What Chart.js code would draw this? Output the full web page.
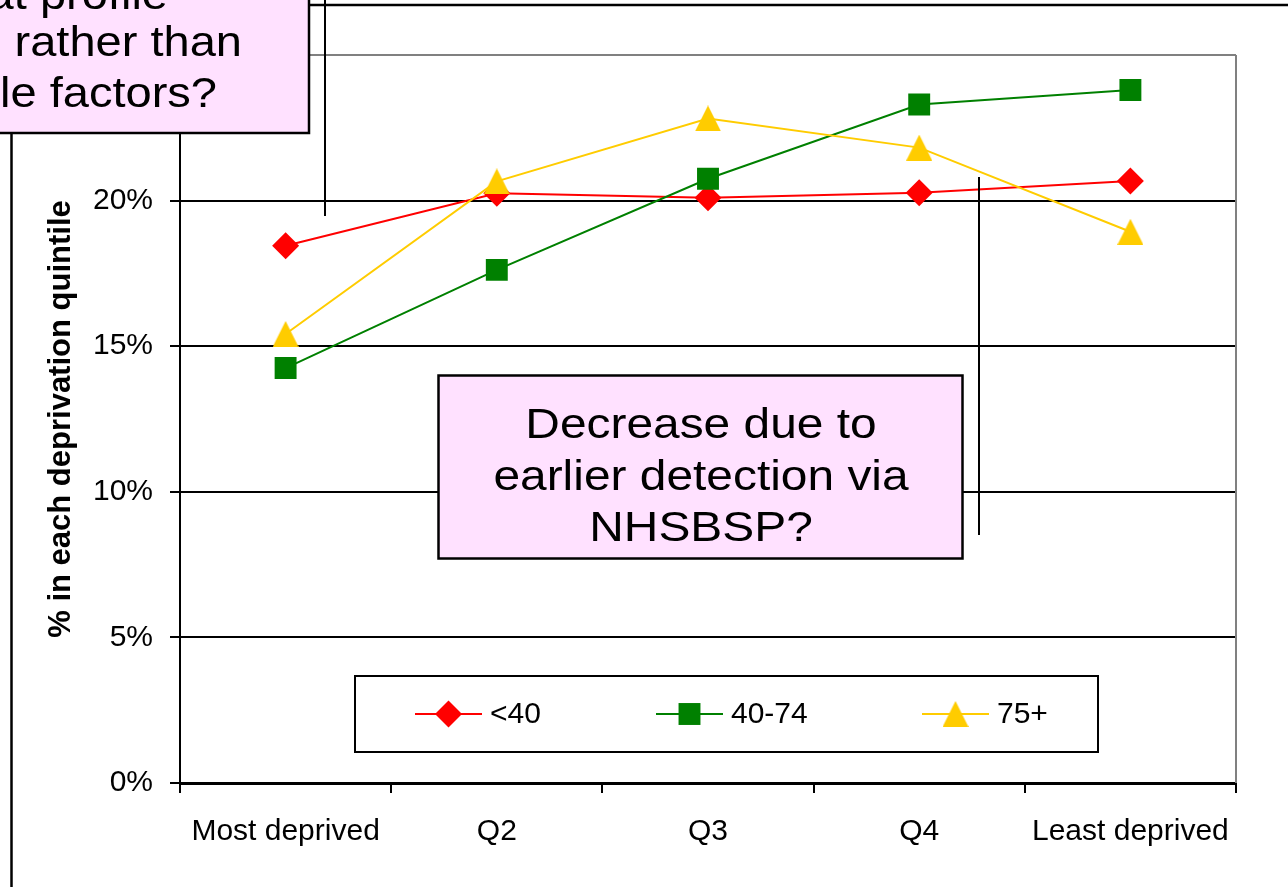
<!DOCTYPE html>
<html>
<head>
<meta charset="utf-8">
<script src="https://cdn.jsdelivr.net/npm/chart.js@4.4.1/dist/chart.umd.min.js"></script>
<style>
  html, body { margin: 0; padding: 0; background: #fff; overflow: hidden; }
  canvas { display: block; }
</style>
</head>
<body>
<canvas id="chart" width="1288" height="887"></canvas>
<script>
// ── Data ─────────────────────────────────────────────────────────────────────
const categories = ['Most deprived', 'Q2', 'Q3', 'Q4', 'Least deprived'];
const under40    = [18.45, 20.25, 20.1, 20.27, 20.67];
const age40to74  = [14.25, 17.62, 20.75, 23.3, 23.8];
const age75plus  = [15.42, 20.66, 22.82, 21.82, 18.93];
const yTicks     = [0, 5, 10, 15, 20, 25];

const FONT = '"Liberation Sans", Arial, sans-serif';
const PINK = '#FFE1FF';

// Excel-style triangle marker (isosceles in a square box)
function triangleMarker(size, color) {
  const c = document.createElement('canvas');
  c.width = size; c.height = size;
  const g = c.getContext('2d');
  g.fillStyle = color;
  g.beginPath();
  g.moveTo(size / 2, 0);
  g.lineTo(size, size);
  g.lineTo(0, size);
  g.closePath();
  g.fill();
  return c;
}

const series = [
  { label: '<40',   data: under40,   color: '#FF0000', pointStyle: 'rectRot', radius: 13.5, order: 3 },
  { label: '40-74', data: age40to74, color: '#008000', pointStyle: 'rect',    radius: 15.5, order: 2 },
  { label: '75+',   data: age75plus, color: '#FFCC00', pointStyle: triangleMarker(26, '#FFCC00'), radius: 13, order: 1 },
];

// ── Plot-area right border (grey, like the Excel frame) ──────────────────────
const plotFrame = {
  id: 'plotFrame',
  beforeDatasetsDraw(chart) {
    const { ctx, chartArea: a } = chart;
    ctx.save();
    ctx.strokeStyle = '#808080';
    ctx.lineWidth = 2;
    ctx.beginPath();
    ctx.moveTo(a.right, a.top);
    ctx.lineTo(a.right, a.bottom);
    ctx.stroke();
    ctx.restore();
  }
};

function drawMarker(ctx, s, x, y) {
  const opts = { pointStyle: s.pointStyle, radius: s.radius, rotation: 0, borderWidth: 0 };
  ctx.fillStyle = s.color;
  if (Chart.helpers && Chart.helpers.drawPoint) {
    Chart.helpers.drawPoint(ctx, opts, x, y);
  }
}

// ── Legend box inside the plot ───────────────────────────────────────────────
const boxedLegend = {
  id: 'boxedLegend',
  afterDraw(chart, args, o) {
    const { ctx } = chart;
    ctx.save();
    ctx.fillStyle = '#fff';
    ctx.fillRect(o.x, o.y, o.w, o.h);
    ctx.strokeStyle = '#000';
    ctx.lineWidth = 2;
    ctx.strokeRect(o.x, o.y, o.w, o.h);
    const cy = o.y + o.h / 2;
    series.forEach((s, i) => {
      const x0 = o.itemX[i];
      ctx.strokeStyle = s.color;
      ctx.lineWidth = 2;
      ctx.beginPath();
      ctx.moveTo(x0, cy);
      ctx.lineTo(x0 + o.lineLen, cy);
      ctx.stroke();
      drawMarker(ctx, s, x0 + o.lineLen / 2, cy);
      ctx.fillStyle = '#000';
      ctx.font = `30px ${FONT}`;
      ctx.textAlign = 'left';
      ctx.textBaseline = 'middle';
      ctx.fillText(s.label, x0 + o.lineLen + 8, cy + 1);
    });
    ctx.restore();
  }
};

// ── Slide callouts and connector lines ───────────────────────────────────────
function stretched(ctx, text, x, y, align, sx) {
  ctx.save();
  ctx.translate(x, y);
  ctx.scale(sx, 1);
  ctx.textAlign = align;
  ctx.fillText(text, 0, 0);
  ctx.restore();
}

const callouts = {
  id: 'callouts',
  afterDraw(chart) {
    const { ctx } = chart;
    ctx.save();
    ctx.strokeStyle = '#000';

    // connector / frame lines
    ctx.lineWidth = 2.5;
    ctx.beginPath(); ctx.moveTo(309, 5); ctx.lineTo(1288, 5); ctx.stroke();
    ctx.beginPath(); ctx.moveTo(11.5, 133); ctx.lineTo(11.5, 887); ctx.stroke();
    ctx.lineWidth = 2;
    ctx.beginPath(); ctx.moveTo(325, 0); ctx.lineTo(325, 216); ctx.stroke();
    ctx.beginPath(); ctx.moveTo(979, 177); ctx.lineTo(979, 535); ctx.stroke();

    ctx.font = `42px ${FONT}`;
    ctx.textBaseline = 'alphabetic';

    // top-left callout (partly off the slide)
    ctx.fillStyle = PINK;
    ctx.fillRect(-20, -20, 329, 153);
    ctx.lineWidth = 2.5;
    ctx.strokeRect(-20, -20, 329, 153);
    ctx.fillStyle = '#000';
    stretched(ctx, 'Different threat profile', 168, 9, 'right', 1.12);
    stretched(ctx, 'hormonal rather than', 242, 56, 'right', 1.12);
    stretched(ctx, 'lifestyle factors?', 217, 107, 'right', 1.12);

    // central callout
    ctx.fillStyle = PINK;
    ctx.fillRect(438.5, 375.5, 524, 183);
    ctx.strokeRect(438.5, 375.5, 524, 183);
    ctx.fillStyle = '#000';
    stretched(ctx, 'Decrease due to', 701, 438, 'center', 1.14);
    stretched(ctx, 'earlier detection via', 701, 490, 'center', 1.14);
    stretched(ctx, 'NHSBSP?', 701, 541, 'center', 1.14);
    ctx.restore();
  }
};

// ── Chart ───────────────────────────────────────────────────────────────────
new Chart(document.getElementById('chart'), {
  type: 'line',
  data: {
    labels: categories,
    datasets: series.map(s => ({
      label: s.label,
      data: s.data,
      order: s.order,
      borderColor: s.color,
      backgroundColor: s.color,
      borderWidth: 2,
      tension: 0,
      fill: false,
      pointStyle: s.pointStyle,
      pointRadius: s.radius,
      pointHoverRadius: s.radius,
      pointBorderWidth: 0,
      pointBackgroundColor: s.color,
    })),
  },
  options: {
    responsive: false,
    animation: false,
    layout: { padding: { left: 0, top: 55, right: 52, bottom: 0 } },
    plugins: {
      legend: { display: false },
      tooltip: { enabled: false },
      boxedLegend: { x: 355, y: 676, w: 743, h: 76, itemX: [415, 656, 922], lineLen: 67 },
    },
    scales: {
      x: {
        type: 'category',
        offset: true,
        grid: { offset: true, drawOnChartArea: false, color: '#000', lineWidth: 2, tickLength: 10 },
        border: { color: '#000', width: 3 },
        ticks: { color: '#000', font: { family: FONT, size: 30 }, padding: 21, maxRotation: 0, autoSkip: false },
        afterFit: s => { s.height = 104; },
      },
      y: {
        min: 0, max: 25,
        afterBuildTicks: s => { s.ticks = yTicks.map(v => ({ value: v })); },
        grid: {
          color: c => (c.tick && c.tick.value === 25 ? '#808080' : '#000'),
          lineWidth: 2, tickLength: 10,
        },
        border: { color: '#000', width: 2 },
        ticks: { color: '#000', font: { family: FONT, size: 30 }, padding: 17, callback: v => v + '%' },
        title: {
          display: true,
          text: '% in each deprivation quintile',
          color: '#000',
          font: { family: FONT, size: 31, weight: 'bold' },
          padding: { top: 43, bottom: 0 },
        },
        afterFit: s => { s.width = 180; },
      },
    },
  },
  plugins: [plotFrame, boxedLegend, callouts],
});
</script>
</body>
</html>
